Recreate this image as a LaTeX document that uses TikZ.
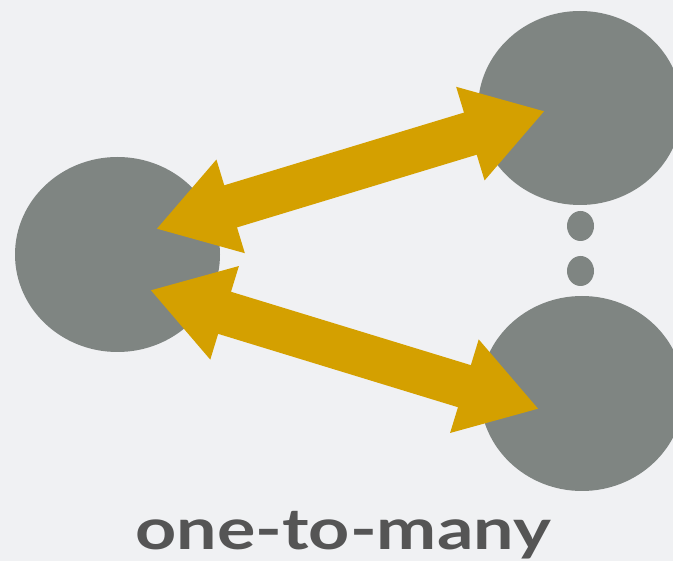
\documentclass[tikz,border=0pt]{standalone}
\usepackage{graphicx}
\usepackage{fontspec}
\setmainfont{Lato}
\usetikzlibrary{arrows.meta}
\definecolor{bgc}{HTML}{F0F1F3}
\definecolor{circ}{HTML}{7F8582}
\definecolor{gold}{HTML}{D4A000}
\definecolor{txt}{HTML}{555555}
\begin{document}
\begin{tikzpicture}[x=1pt,y=-1pt,
  blob/.style={fill=circ,draw=none},
  bigarrow/.style={draw=gold,line width=44pt,{Triangle[length=78pt,width=92pt]}-{Triangle[length=78pt,width=92pt]}},
  labeltext/.style={anchor=base, text=txt, font=\fontsize{57}{60}\selectfont\bfseries, inner sep=0}]
\fill[bgc] (0,0) rectangle (673,561);
\useasboundingbox (0,0) rectangle (673,561);
\begin{scope}
\clip (0,0) rectangle (673,561);
\fill[blob] (117.5,254.5) ellipse [x radius=102.5, y radius=97.5];
\fill[blob] (580,108) ellipse [x radius=102, y radius=97];
\fill[blob] (582,393.5) ellipse [x radius=102, y radius=97.5];
\fill[blob] (580.5,226) ellipse [x radius=13.5, y radius=15];
\fill[blob] (580.5,271) ellipse [x radius=13.5, y radius=15];
\end{scope}
\coordinate (one1) at (156,229);
\coordinate (many1) at (545,111);
\coordinate (one2) at (150,290);
\coordinate (many2) at (539,409);
\draw[bigarrow] (one1) -- (many1);
\draw[bigarrow] (one2) -- (many2);
\node[labeltext] (label) at (343,550) {\scalebox{1.26}[1]{one-to-many}};
\end{tikzpicture}
\end{document}
